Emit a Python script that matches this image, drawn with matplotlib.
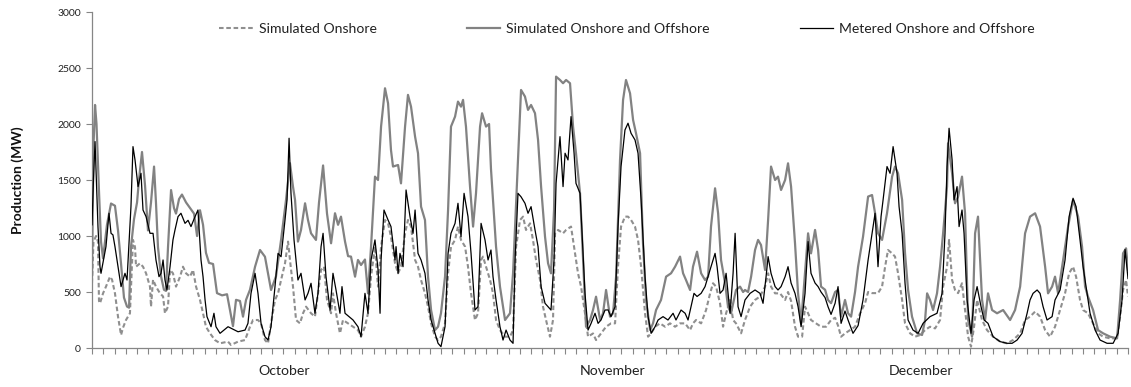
import matplotlib
matplotlib.use("Agg")
import matplotlib.pyplot as plt
from matplotlib.ticker import MultipleLocator
import matplotlib.transforms as mtransforms

plt.rcParams['font.family'] = ['Lato', 'DejaVu Sans']

# ---- data (days since 1 October, MW) ----
months = ["October", "November", "December"]
month_label_day = [17.05, 46.2, 73.6]

sim_on_day = [0.00,0.13,0.36,0.53,0.62,0.71,0.98,1.24,1.60,1.78,2.04,2.31,2.58,2.75,3.02,3.37,3.64,3.82,3.91,4.26,4.53,4.80,5.15,5.24,5.42,5.68,6.04,6.31,6.48,6.75,6.93,7.19,7.46,7.82,8.08,8.35,8.70,8.97,9.24,9.59,9.86,10.12,10.48,10.92,11.37,12.08,12.34,12.97,13.59,14.03,14.30,14.74,15.01,15.36,15.63,15.90,16.25,16.52,16.79,17.14,17.41,17.58,17.85,18.12,18.47,18.74,19.01,19.45,19.80,20.07,20.34,20.60,20.87,21.23,21.40,21.67,22.02,22.29,22.74,23.18,23.62,23.89,24.24,24.51,24.78,25.13,25.40,25.67,26.02,26.29,26.55,26.91,27.18,27.44,27.80,28.06,28.33,28.69,28.95,29.22,29.57,29.84,30.11,30.46,30.73,30.99,31.35,31.62,31.88,32.24,32.50,32.77,33.13,33.39,33.66,34.01,34.28,34.55,34.72,34.99,35.35,35.61,35.88,36.23,36.68,37.12,37.39,37.66,38.01,38.28,38.54,38.90,39.16,39.43,39.79,40.05,40.32,40.67,40.94,41.12,41.39,41.83,42.10,42.54,42.89,43.16,43.43,43.78,44.05,44.49,44.76,45.20,45.65,46.09,46.45,46.71,46.98,47.33,47.60,47.87,48.22,48.49,48.76,49.11,49.38,49.65,50.00,50.44,50.89,51.33,51.78,52.22,52.67,53.11,53.37,53.64,54.09,54.53,54.89,55.15,55.42,55.77,56.04,56.31,56.66,56.93,57.19,57.64,57.99,58.44,58.88,59.32,59.77,60.04,60.30,60.66,61.10,61.55,61.81,62.08,62.43,62.70,63.06,63.32,63.59,63.85,64.30,64.74,65.19,65.63,65.99,66.25,66.52,66.87,67.32,67.76,68.21,68.65,68.92,69.27,69.80,70.16,70.43,70.69,71.05,71.31,71.58,71.94,72.20,72.65,73.09,73.54,73.98,74.42,74.87,75.31,75.58,75.93,76.11,76.38,76.64,76.91,77.26,77.53,77.80,78.06,78.33,78.60,79.04,79.48,80.02,80.64,81.26,81.79,82.42,82.86,83.30,83.75,84.19,84.64,85.08,85.52,85.97,86.41,86.77,87.12,87.39,87.74,88.01,88.45,88.90,89.34,89.79,90.41,91.03,91.30,91.56,91.83,92.00]
sim_on_mw = [580,950,1000,950,420,399,488,548,637,610,488,280,116,180,250,310,965,900,726,756,726,667,548,369,610,548,488,460,310,370,697,667,548,637,726,667,637,697,548,429,310,190,131,71,42,57,27,57,71,190,250,250,220,71,42,220,429,488,607,756,950,786,548,250,220,310,369,310,280,488,697,726,429,310,488,310,131,250,220,190,160,101,190,310,637,905,548,905,1143,1113,994,756,667,726,1024,1143,1084,786,726,607,488,369,220,101,71,101,220,667,905,965,1084,965,905,726,488,250,310,786,816,726,607,488,250,160,101,101,160,905,1143,1173,1054,1113,965,786,607,369,250,101,250,1024,1054,1024,1054,1084,845,667,548,310,101,130,71,130,190,220,220,726,1084,1173,1173,1143,1084,965,726,310,101,131,190,220,190,220,190,220,220,160,220,250,220,339,488,578,548,399,190,310,429,250,220,131,250,369,429,460,548,667,548,488,488,429,500,420,190,101,101,369,310,250,220,190,190,250,270,200,101,130,160,190,310,400,500,490,490,548,726,875,845,816,667,429,220,131,101,116,160,190,175,250,548,726,965,607,518,490,578,339,101,12,190,429,250,160,101,57,42,71,131,250,280,325,280,160,101,190,339,488,667,726,637,429,339,310,220,131,101,86,86,280,518,607,460]

sim_all_day = [0.00,0.13,0.27,0.40,0.62,0.80,0.98,1.33,1.69,2.04,2.31,2.58,2.84,3.11,3.29,3.46,3.73,4.00,4.17,4.44,4.71,4.97,5.24,5.51,5.68,5.86,6.13,6.39,6.57,6.75,7.02,7.28,7.46,7.73,7.99,8.35,8.70,9.06,9.33,9.59,9.86,10.12,10.39,10.75,11.10,11.55,11.99,12.52,12.79,13.14,13.41,13.68,14.03,14.48,14.92,15.36,15.63,15.90,16.34,16.79,17.23,17.58,17.85,18.03,18.29,18.56,18.92,19.18,19.45,19.89,20.16,20.52,20.87,21.23,21.58,21.85,22.11,22.47,22.74,23.00,23.36,23.62,23.89,24.24,24.51,24.78,25.13,25.40,25.67,26.02,26.29,26.55,26.73,27.18,27.44,27.80,28.06,28.33,28.69,28.95,29.22,29.57,29.84,30.11,30.46,30.73,30.99,31.35,31.62,31.88,32.24,32.50,32.77,32.95,33.21,33.57,33.84,34.10,34.46,34.64,34.99,35.26,35.43,35.61,35.88,36.23,36.68,37.12,37.39,37.57,37.83,38.10,38.45,38.72,38.99,39.34,39.61,39.88,40.23,40.50,40.76,41.03,41.21,41.56,41.83,42.10,42.45,42.72,42.98,43.34,43.61,43.87,44.23,44.49,44.76,45.12,45.38,45.65,46.00,46.27,46.54,46.89,47.16,47.42,47.78,48.05,48.31,48.67,48.93,49.20,49.56,49.82,50.09,50.53,50.98,51.42,51.78,52.22,52.49,52.75,53.11,53.37,53.73,54.09,54.44,54.71,54.97,55.33,55.60,55.86,56.22,56.48,56.75,57.19,57.55,57.82,57.99,58.26,58.53,58.88,59.15,59.41,59.77,60.04,60.30,60.66,60.92,61.19,61.55,61.81,62.08,62.43,62.70,62.97,63.32,63.59,63.85,64.21,64.48,64.74,65.10,65.36,65.63,65.99,66.25,66.52,66.87,67.14,67.41,67.76,68.03,68.47,68.92,69.27,69.54,69.80,70.16,70.60,71.05,71.31,71.58,71.94,72.20,72.47,72.82,73.27,73.71,73.98,74.16,74.42,74.69,75.04,75.31,75.58,75.93,76.02,76.38,76.64,76.91,77.26,77.53,77.80,78.15,78.42,78.68,79.04,79.31,79.57,79.93,80.37,80.91,81.53,81.97,82.42,82.86,83.30,83.75,84.19,84.64,84.90,85.26,85.52,85.79,86.24,86.68,87.12,87.57,87.92,88.19,88.45,88.90,89.34,89.79,90.41,91.03,91.30,91.56,91.83,92.00]
sim_all_mw = [650,1800,2170,2000,1400,950,800,1100,1290,1270,1050,750,450,370,360,900,1150,1300,1500,1750,1450,1050,1300,1620,1300,900,640,520,510,900,1410,1250,1200,1330,1370,1300,1250,1200,1000,1230,1100,850,760,750,490,470,480,195,430,420,280,430,520,726,875,815,667,518,640,965,1322,1650,1440,1322,950,1054,1292,1143,1024,965,1300,1630,1200,935,1203,1100,1173,950,820,816,637,786,741,790,488,905,1530,1500,1977,2319,2185,1768,1620,1634,1470,1977,2260,2155,1887,1739,1262,1143,637,339,160,190,310,637,1232,1977,2066,2200,2155,2215,1977,1441,1084,1381,1977,2096,1977,2000,1600,1322,905,548,250,310,667,1084,1679,2304,2245,2126,2170,2096,1858,1441,994,756,667,1232,2423,2393,2364,2393,2364,1977,1739,1381,786,190,250,339,458,250,310,518,280,310,637,1679,2215,2393,2274,2036,1917,1739,935,429,160,220,339,429,637,667,726,816,667,607,518,726,860,667,607,637,1084,1426,1203,786,578,369,310,518,548,500,518,500,637,875,965,920,697,1143,1620,1500,1530,1411,1500,1649,1441,935,488,220,667,1024,845,1054,875,548,520,429,400,500,518,280,429,310,280,500,726,994,1352,1366,1203,1024,965,1203,1530,1620,1560,1322,845,518,280,131,116,250,488,429,339,488,726,1024,1441,1828,1560,1292,1350,1530,1203,250,101,1024,1173,429,250,488,339,310,339,250,339,548,1024,1173,1203,1084,726,488,548,637,488,786,1084,1322,1173,905,548,458,339,160,131,101,86,429,845,890,697]

meter_day = [0.00,0.13,0.27,0.53,0.71,0.80,1.07,1.24,1.51,1.69,1.86,2.04,2.31,2.58,2.93,3.11,3.46,3.64,3.82,3.91,4.09,4.35,4.53,4.80,5.15,5.42,5.68,5.95,6.13,6.31,6.48,6.66,6.93,7.19,7.37,7.64,7.90,8.26,8.53,8.79,9.15,9.41,9.68,9.86,10.04,10.21,10.57,10.83,11.01,11.37,12.08,12.97,13.59,13.85,14.12,14.48,14.74,15.01,15.36,15.63,15.90,16.25,16.52,16.79,17.14,17.32,17.50,17.67,17.94,18.29,18.56,18.92,19.18,19.45,19.80,20.07,20.34,20.52,20.78,21.14,21.40,21.67,22.02,22.20,22.47,22.82,23.18,23.62,23.89,24.24,24.51,24.78,25.13,25.40,25.58,25.67,25.93,26.29,26.55,26.91,27.00,27.18,27.35,27.62,27.89,28.24,28.51,28.69,28.95,29.22,29.57,29.84,30.11,30.46,30.73,30.99,31.35,31.62,31.88,32.24,32.50,32.77,33.04,33.39,33.66,34.01,34.28,34.55,34.90,35.17,35.43,35.61,35.88,36.23,36.50,36.77,37.12,37.39,37.57,37.83,38.10,38.45,38.72,38.99,39.34,39.61,39.88,40.23,40.50,40.76,41.03,41.21,41.56,41.83,42.01,42.27,42.54,42.81,42.98,43.34,43.52,43.78,44.05,44.32,44.67,44.94,45.20,45.56,45.83,46.09,46.45,46.71,46.98,47.33,47.60,47.87,48.22,48.49,48.76,49.11,49.38,49.65,50.00,50.27,50.71,51.15,51.60,51.86,52.31,52.67,52.93,53.20,53.46,53.73,54.09,54.44,54.71,54.97,55.33,55.51,55.77,56.04,56.31,56.66,56.93,57.11,57.37,57.64,57.99,58.44,58.88,59.32,59.59,59.86,60.04,60.30,60.66,60.92,61.19,61.55,61.81,62.08,62.43,62.70,62.97,63.32,63.59,63.85,64.21,64.48,64.74,65.10,65.36,65.63,65.99,66.25,66.52,66.87,67.14,67.58,68.03,68.47,68.92,69.27,69.54,69.80,70.07,70.25,70.60,70.87,71.14,71.49,71.67,71.94,72.20,72.47,72.91,73.36,73.80,74.42,75.04,75.49,75.75,75.93,76.11,76.38,76.55,76.82,77.00,77.26,77.44,77.71,78.06,78.33,78.60,78.95,79.22,79.57,80.02,80.64,81.26,81.71,82.15,82.59,83.04,83.30,83.57,83.93,84.19,84.46,84.81,85.26,85.52,85.97,86.41,86.77,87.12,87.39,87.74,88.01,88.37,88.63,89.08,89.52,90.14,90.68,91.12,91.47,91.74,92.00]
meter_mw = [1100,1500,1843,1084,726,667,816,905,1203,1024,1010,905,726,548,667,607,1262,1798,1679,1600,1441,1560,1232,1173,1024,1024,786,637,667,786,607,518,726,965,1054,1173,1203,1113,1140,1084,1173,1232,786,637,429,280,190,310,190,131,190,145,160,220,488,667,488,220,101,71,190,548,845,815,1143,1322,1873,1381,965,607,667,429,488,578,310,488,905,1024,637,339,667,518,310,548,310,280,250,190,101,488,310,786,965,700,310,786,1232,1143,1084,786,905,667,845,726,1411,1173,1024,1232,845,786,667,429,250,131,42,12,190,845,1024,1113,1292,994,1381,1173,845,339,370,1113,965,786,875,637,429,190,71,160,71,42,786,1381,1350,1292,1203,1262,1054,905,548,399,369,339,786,1470,1887,1441,1739,1679,2066,1739,1470,1381,1024,488,160,220,310,220,250,339,340,280,369,1084,1620,1947,2007,1917,1858,1739,1322,637,280,131,190,250,280,250,310,250,339,310,250,369,488,460,488,548,637,726,845,726,488,518,667,310,667,1024,369,280,429,488,518,488,399,637,816,667,548,518,548,637,726,580,488,369,190,488,950,667,580,548,500,450,369,300,400,548,220,330,250,131,200,429,786,1024,1203,726,1173,1322,1620,1560,1798,1560,1262,1024,578,250,160,131,220,280,310,488,1024,1620,1962,1679,1322,1441,1084,1232,1024,429,131,429,548,369,250,220,101,57,42,42,71,131,310,429,488,518,488,369,250,280,429,518,786,1173,1337,1262,965,726,488,310,160,71,42,42,131,429,880,620]

series_labels = ["Simulated Onshore", "Simulated Onshore and Offshore", "Metered Onshore and Offshore"]

# ---- figure ----
fig = plt.figure(figsize=(11.31, 3.87), dpi=100)
ax = fig.add_axes([92/1131, 39/387, 1036/1131, 336/387])

ax.plot(sim_on_day, sim_on_mw, color='#8f8f8f', lw=1.5, ls=(0, (2.2, 1.3)), label=series_labels[0], zorder=2)
ax.plot(sim_all_day, sim_all_mw, color='#828282', lw=1.6, ls='-', label=series_labels[1], zorder=3)
ax.plot(meter_day, meter_mw, color='#000000', lw=0.9, ls='-', label=series_labels[2], zorder=4)

ax.set_xlim(0, 92)
ax.set_ylim(0, 3000)
ax.yaxis.set_major_locator(MultipleLocator(500))
ax.xaxis.set_major_locator(MultipleLocator(1))
ax.set_xticklabels([])
ax.tick_params(axis='x', which='major', direction='out', length=4, width=0.8, color='#868686', labelbottom=False)
ax.tick_params(axis='y', which='major', direction='out', length=4, width=0.8, color='#868686',
               labelsize=7.5, labelcolor='#222222', pad=4)

for side in ['top', 'right']:
    ax.spines[side].set_visible(False)
for side in ['left', 'bottom']:
    ax.spines[side].set_color('#868686')
    ax.spines[side].set_linewidth(0.9)

ax.set_ylabel('Production (MW)', fontsize=10, fontweight='bold', color='#111111')
ax.yaxis.set_label_coords(-0.0656, 0.5)

trans = mtransforms.blended_transform_factory(ax.transData, ax.transAxes)
for d, m in zip(month_label_day, months):
    ax.text(d, -0.068, m, transform=trans, ha='center', va='center', fontsize=10.2, color='#222222')

leg = ax.legend(ncol=3, loc='center', bbox_to_anchor=(0.5165, 0.95), frameon=False,
                fontsize=10.1, handlelength=2.4, handletextpad=0.43, columnspacing=6.4)
for t in leg.get_texts():
    t.set_color('#222222')

fig.savefig('out.png', dpi=100)
